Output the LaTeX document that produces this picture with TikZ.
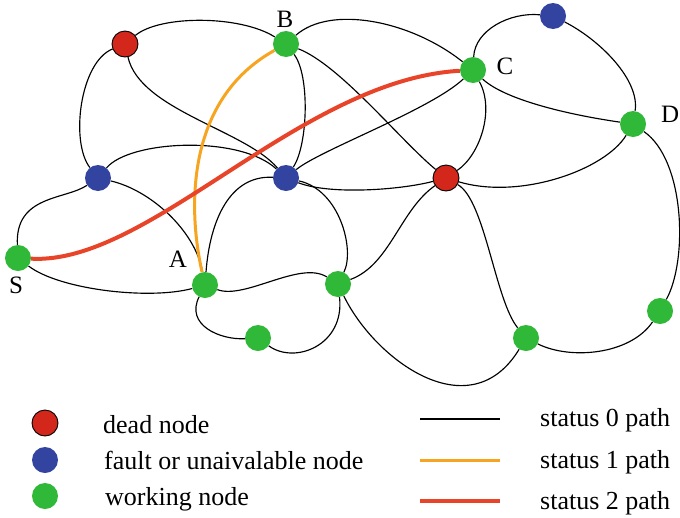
\documentclass[tikz,border=0pt]{standalone}
\usepackage{fontspec}
\setmainfont{Liberation Serif}
\usetikzlibrary{backgrounds}
\definecolor{deadc}{HTML}{D3271C}
\definecolor{faultc}{HTML}{3344A0}
\definecolor{workc}{HTML}{30B838}
\definecolor{orangec}{HTML}{F7A420}
\definecolor{redc}{HTML}{E8442A}
\begin{document}
\begin{tikzpicture}[x=1pt,y=-1pt,
  nd/.style={circle,minimum size=26pt,inner sep=0pt},
  dead/.style={nd,fill=deadc,draw=black,line width=0.9pt},
  fault/.style={nd,fill=faultc},
  work/.style={nd,fill=workc},
  e0/.style={black,line width=1.15pt},
  e1/.style={orangec,line width=3pt},
  e2/.style={redc,line width=4pt},
  lbl/.style={font=\fontsize{25}{30}\selectfont,inner sep=0pt,anchor=base},
  ltxt/.style={font=\fontsize{26}{30}\selectfont,inner sep=0pt,anchor=base west}
]
\useasboundingbox (0,0) rectangle (680,517);
% nodes
\node[dead]  (r1) at (125,44) {};
\node[work]  (B)  at (286,44) {};
\node[work]  (C)  at (473,70) {};
\node[fault] (bt) at (553,16) {};
\node[work]  (D)  at (633,124) {};
\node[fault] (bl) at (98,178) {};
\node[fault] (bc) at (286,178) {};
\node[dead]  (rc) at (446,178) {};
\node[work]  (S)  at (18,258) {};
\node[work]  (A)  at (205,285) {};
\node[work]  (gm) at (338,284) {};
\node[work]  (gb) at (258,338) {};
\node[work]  (g5) at (526,338) {};
\node[work]  (g6) at (660,311) {};
% labels
\node[lbl] (tB) at (285,27) {B};
\node[lbl] (tC) at (505,74) {C};
\node[lbl,anchor=base west] (tD) at (661,122) {D};
\node[lbl] (tS) at (16,293) {S};
\node[lbl] (tA) at (178,267) {A};
\begin{pgfonlayer}{background}
\draw[e0] (r1) .. controls (160,15) and (240,15) .. (B);
\draw[e0] (r1) .. controls (80,62) and (70,142) .. (bl);
\draw[e0] (r1) .. controls (140,110) and (245,130) .. (bc);
\draw[e0] (B) .. controls (310,75) and (308,145) .. (bc);
\draw[e0] (B) .. controls (330,5) and (410,20) .. (C);
\draw[e0] (B) .. controls (340,65) and (400,140) .. (rc);
\draw[e0] (bl) .. controls (130,140) and (240,135) .. (bc);
\draw[e0] (bl) .. controls (150,190) and (195,230) .. (A);
\draw[e0] (bl) .. controls (65,200) and (15,195) .. (S);
\draw[e0] (bc) .. controls (320,150) and (430,110) .. (C);
\draw[e0] (bc) .. controls (330,195) and (400,190) .. (rc);
\draw[e0] (A) .. controls (210,220) and (230,175) .. (bc);
\draw[e0] (bc) .. controls (340,190) and (355,250) .. (gm);
\draw[e0] (C) .. controls (475,30) and (510,12) .. (bt);
\draw[e0] (C) .. controls (505,100) and (570,115) .. (D);
\draw[e0] (C) .. controls (495,110) and (480,155) .. (rc);
\draw[e0] (bt) .. controls (600,40) and (640,80) .. (D);
\draw[e0] (D) .. controls (605,170) and (520,200) .. (rc);
\draw[e0] (D) .. controls (685,160) and (688,260) .. (g6);
\draw[e0] (rc) .. controls (400,210) and (390,265) .. (gm);
\draw[e0] (rc) .. controls (485,200) and (495,300) .. (g5);
\draw[e0] (g5) .. controls (570,360) and (630,355) .. (g6);
\draw[e0] (gm) .. controls (375,360) and (470,430) .. (g5);
\draw[e0] (A) .. controls (245,300) and (300,260) .. (gm);
\draw[e0] (A) .. controls (185,325) and (220,340) .. (gb);
\draw[e0] (gb) .. controls (295,365) and (345,345) .. (gm);
\draw[e0] (S) .. controls (60,290) and (150,300) .. (A);
\draw[e1] (A) .. controls (188,210) and (185,100) .. (B);
\draw[e2] (S) .. controls (150,265) and (300,80) .. (C);
\end{pgfonlayer}
% legend
\node[dead]  (ld) at (45,423) {};
\node[fault] (lf) at (45,460) {};
\node[work]  (lw) at (45,496) {};
\node[ltxt] (td) at (103,433) {dead node};
\node[ltxt] (tf) at (104,469) {fault or unaivalable node};
\node[ltxt] (tw) at (105,505) {working node};
\coordinate (l0a) at (420,419); \coordinate (l0b) at (500,419);
\coordinate (l1a) at (420,460); \coordinate (l1b) at (500,460);
\coordinate (l2a) at (420,501); \coordinate (l2b) at (500,501);
\draw[e0] (l0a) -- (l0b);
\draw[e1] (l1a) -- (l1b);
\draw[e2] (l2a) -- (l2b);
\node[ltxt] (t0) at (540,426) {status 0 path};
\node[ltxt] (t1) at (540,468) {status 1 path};
\node[ltxt] (t2) at (540,509) {status 2 path};
\end{tikzpicture}
\end{document}
